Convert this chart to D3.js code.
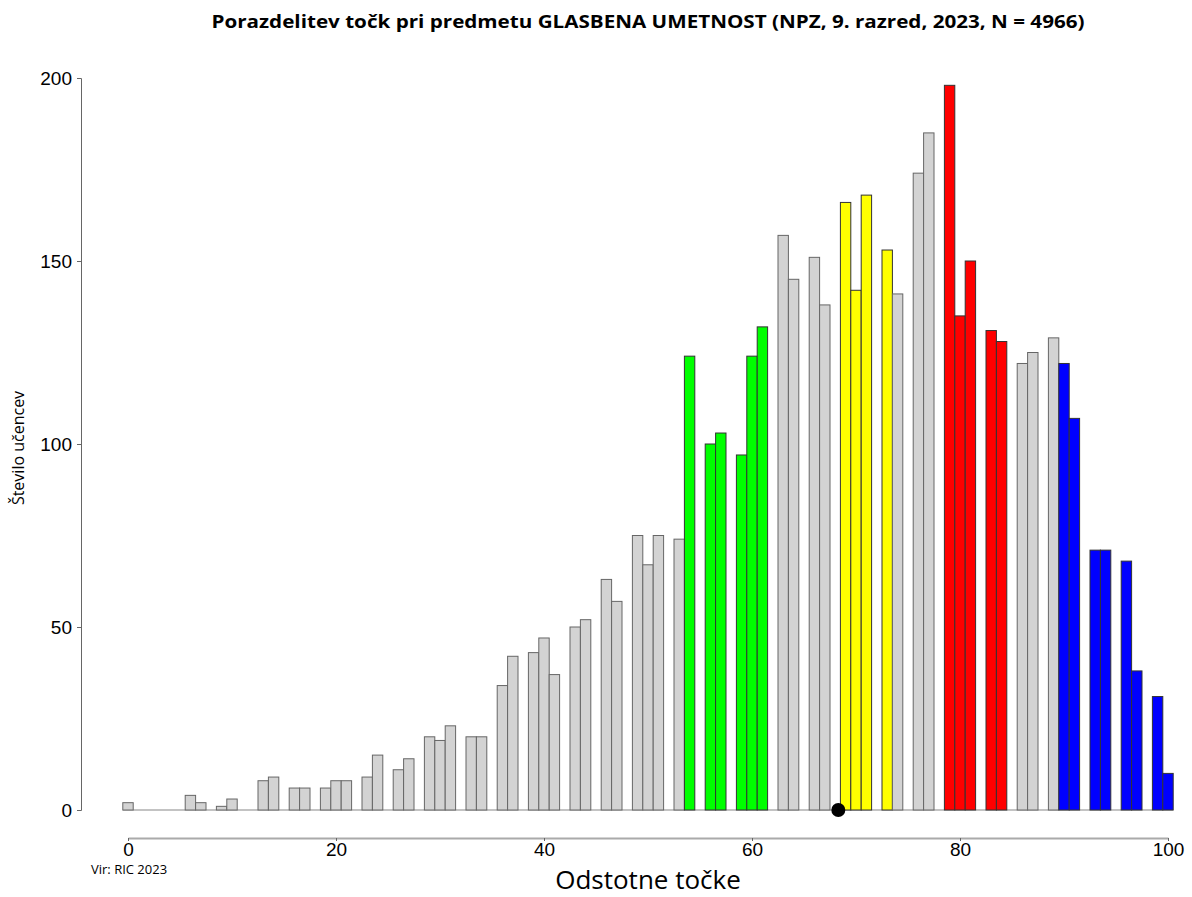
<!DOCTYPE html>
<html>
<head>
<meta charset="utf-8">
<script src="https://cdn.jsdelivr.net/npm/d3@7"></script>
<style>
  body { margin: 0; background: #fff; }
  text { font-family: "Liberation Sans", Arial, sans-serif; }
</style>
</head>
<body>
<div id="chart"></div>
<script>
// Chart size
var svgWidth = 1192;
var svgHeight = 897;

// Data: percent score -> number of pupils
var scores = [0, 6, 7, 9, 10, 13, 14, 16, 17, 19, 20, 21, 23, 24, 26, 27, 29, 30, 31, 33, 34,
  36, 37, 39, 40, 41, 43, 44, 46, 47, 49, 50, 51, 53, 54, 56, 57, 59, 60, 61, 63, 64, 66, 67,
  69, 70, 71, 73, 74, 76, 77, 79, 80, 81, 83, 84, 86, 87, 89, 90, 91, 93, 94, 96, 97, 99, 100];
var counts = [2, 4, 2, 1, 3, 8, 9, 6, 6, 6, 8, 8, 9, 15, 11, 14, 20, 19, 23, 20, 20,
  34, 42, 43, 47, 37, 50, 52, 63, 57, 75, 67, 75, 74, 124, 100, 103, 97, 124, 132, 157, 145, 151, 138,
  166, 142, 168, 153, 141, 174, 185, 198, 135, 150, 131, 128, 122, 125, 129, 122, 107, 71, 71, 68, 38, 31, 10];

// coloured score groups
var greenScores = [54, 56, 57, 59, 60, 61];
var yellowScores = [69, 70, 71, 73];
var redScores = [79, 80, 81, 83, 84];
var blueScores = [90, 91, 93, 94, 96, 97, 99, 100];

var meanScore = 68.3;
var yTicks = [0, 50, 100, 150, 200];
var xTicks = [0, 20, 40, 60, 80, 100];

var data = scores.map(function(s, i) { return { score: s, count: counts[i] }; });

function barColor(s) {
  if (greenScores.indexOf(s) >= 0) return "#00ff00";
  if (yellowScores.indexOf(s) >= 0) return "#ffff00";
  if (redScores.indexOf(s) >= 0) return "#ff0000";
  if (blueScores.indexOf(s) >= 0) return "#0000ff";
  return "#d3d3d3";
}

var svg = d3.select("#chart")
  .append("svg")
  .attr("width", svgWidth)
  .attr("height", svgHeight);

// scales
var x = d3.scaleLinear().domain([0, 100]).range([128, 1168]);
var y = d3.scaleLinear().domain([0, 200]).range([810, 78]);
var bw = x(1) - x(0);

// title
svg.append("text")
  .attr("x", 648)
  .attr("y", 28)
  .attr("text-anchor", "middle")
  .style("font-family", "'Open Sans', sans-serif")
  .style("font-weight", "bold")
  .style("font-size", "18px")
  .attr("textLength", 873)
  .attr("lengthAdjust", "spacingAndGlyphs")
  .text("Porazdelitev točk pri predmetu GLASBENA UMETNOST (NPZ, 9. razred, 2023, N = 4966)");

// baseline across the bars
svg.append("line")
  .attr("x1", x(-0.5)).attr("x2", x(100.5))
  .attr("y1", y(0)).attr("y2", y(0))
  .attr("stroke", "#888")
  .attr("stroke-width", 1.2);

// bars
svg.selectAll("rect.bar")
  .data(data)
  .enter()
  .append("rect")
  .attr("class", "bar")
  .attr("x", d => x(d.score) - bw / 2)
  .attr("width", bw)
  .attr("y", d => y(d.count))
  .attr("height", d => y(0) - y(d.count))
  .attr("fill", d => barColor(d.score))
  .attr("stroke", d => barColor(d.score) === "#d3d3d3" ? "#666" : "#333")
  .attr("stroke-width", 1);

// mean marker
svg.append("circle")
  .attr("cx", x(meanScore))
  .attr("cy", y(0))
  .attr("r", 7)
  .attr("fill", "#000");

// y axis
var leftAxis = d3.axisLeft(y).tickValues(yTicks).tickSize(4).tickPadding(5);
var yAxis = svg.append("g")
  .attr("transform", "translate(81,0)")
  .call(leftAxis);
yAxis.select(".domain").attr("stroke", "#666");
yAxis.selectAll(".tick line").attr("stroke", "#666");
yAxis.selectAll(".tick text")
  .style("font-size", "19px")
  .attr("fill", "#000");

// x axis
var bottomAxis = d3.axisBottom(x).tickValues(xTicks).tickSize(3).tickSizeOuter(0).tickPadding(2);
var xAxis = svg.append("g")
  .attr("transform", "translate(0,838)")
  .call(bottomAxis);
xAxis.select(".domain").attr("stroke", "#aaa").attr("stroke-width", 2);
xAxis.selectAll(".tick line").attr("stroke", "#666");
xAxis.selectAll(".tick text")
  .style("font-size", "19px")
  .attr("fill", "#000");

// axis labels
svg.append("text")
  .attr("x", 648)
  .attr("y", 889)
  .attr("text-anchor", "middle")
  .style("font-family", "'Open Sans', sans-serif")
  .style("font-size", "26px")
  .text("Odstotne točke");

svg.append("text")
  .attr("transform", "translate(24,448) rotate(-90)")
  .attr("text-anchor", "middle")
  .style("font-family", "'Open Sans', sans-serif")
  .style("font-size", "16px")
  .text("Število učencev");

// source
svg.append("text")
  .attr("x", 91)
  .attr("y", 874)
  .style("font-family", "'Open Sans', sans-serif")
  .style("font-size", "13px")
  .text("Vir: RIC 2023");
</script>
</body>
</html>
